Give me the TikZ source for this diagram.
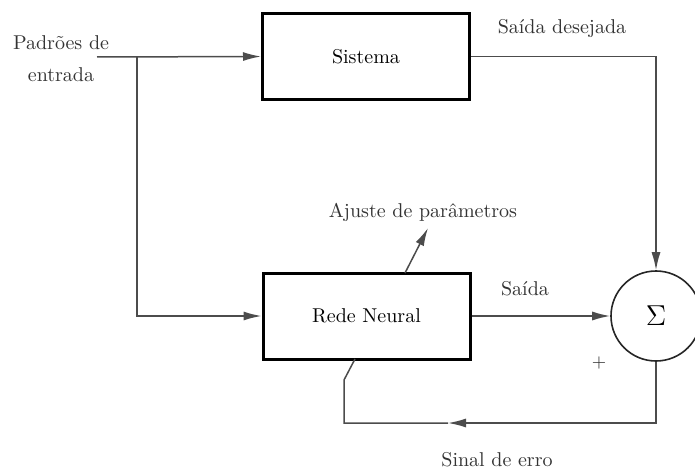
\documentclass[tikz,border=0pt]{standalone}
\usepackage{fontspec}
\usetikzlibrary{arrows.meta}
\begin{document}
\begin{tikzpicture}[x=0.5pt,y=0.5pt,
  block/.style={draw=black, line width=1.5pt, minimum width=103.5pt, minimum height=43pt, inner sep=0pt},
  summer/.style={draw=black!85, circle, line width=0.8pt, minimum size=45pt, inner sep=0pt},
  wire/.style={draw=black!70, line width=0.75pt},
  arr/.style={wire, -{Latex[length=9pt,width=4.5pt]}},
  lbl/.style={inner sep=0pt, text=black!80}]
  \useasboundingbox (0,0) rectangle (695,-470);

  % blocks
  \node[block] (sis) at (366,-56.5) {Sistema};
  \node[block] (rede) at (366.5,-316) {Rede Neural};
  \node[summer] (sum) at (656,-316) {\Large$\Sigma$};

  % helper points
  \coordinate (in) at (97,-57);
  \coordinate (br) at (137,-57);
  \coordinate (aj0) at (405,-273);
  \coordinate (aj1) at (428,-228);
  \coordinate (ma) at (448,-423);
  \coordinate (c2) at (344,-423);
  \coordinate (c3) at (344,-380);
  \coordinate (c4) at (355,-359);

  % signal paths
  \draw[arr] (in) -- (sis.west);
  \draw[arr] (br) |- (rede.west);
  \draw[arr] (sis.east) -| (sum.north);
  \draw[arr] (rede.east) -- (sum.west);
  \draw[arr] (aj0) -- (aj1);
  \draw[arr] (sum.south) |- (ma);
  \draw[wire] (ma) -- (c2) -- (c3) -- (c4);

  % labels
  \node[lbl, align=center, font=\fontsize{10}{16}\selectfont] (pin) at (61,-59) {Padrões de\\entrada};
  \node[lbl] (ldes) at (562,-29) {Saída desejada};
  \node[lbl] (laj) at (423,-212) {Ajuste de parâmetros};
  \node[lbl] (lout) at (525,-289) {Saída};
  \node[lbl, font=\small] (lplus) at (599,-363) {$+$};
  \node[lbl] (lerr) at (497,-460) {Sinal de erro};
\end{tikzpicture}
\end{document}
